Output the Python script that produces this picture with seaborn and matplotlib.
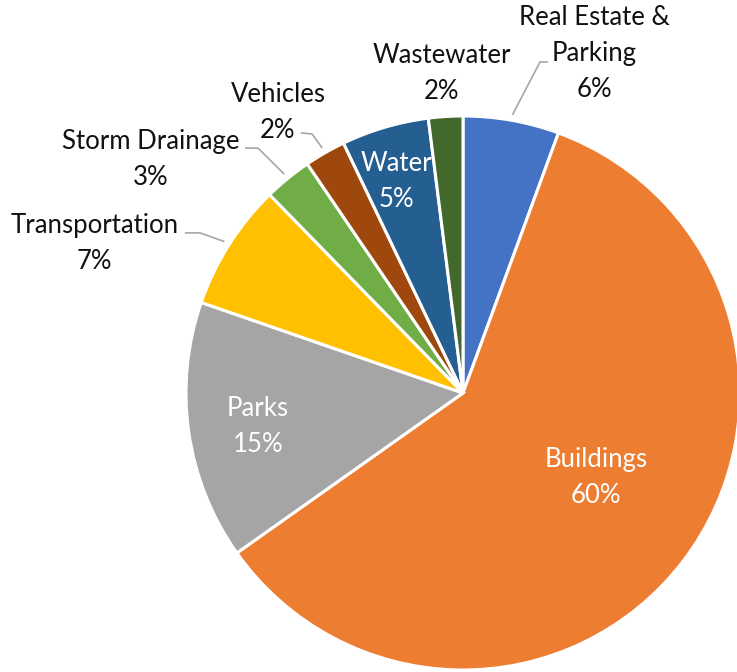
import numpy as np
import seaborn as sns
import matplotlib.pyplot as plt

# Datos del gráfico (en sentido horario desde las 12)
categorias = ['Real Estate &\nParking', 'Buildings', 'Parks', 'Transportation',
              'Storm Drainage', 'Vehicles', 'Water', 'Wastewater']
valores = [5.6, 59.6, 15.1, 7.4, 2.8, 2.4, 5.1, 2.0]
colores = ['#4472C4', '#ED7D31', '#A5A5A5', '#FFC000',
           '#70AD47', '#9E480E', '#255E91', '#43682B']

# Posición de las etiquetas (unidades del radio) y si van dentro
pos_texto = {
    'Real Estate &\nParking': (0.473, 1.225),
    'Buildings': (0.480, -0.306),
    'Parks': (-0.740, -0.122),
    'Transportation': (-1.329, 0.539),
    'Storm Drainage': (-1.126, 0.842),
    'Vehicles': (-0.668, 1.012),
    'Water': (-0.242, 0.763),
    'Wastewater': (-0.076, 1.152),
}
dentro = ['Buildings', 'Parks', 'Water']
# Líneas guía: codo y final
guias = {
    'Real Estate &\nParking': [(0.278, 1.195), (0.307, 1.195)],
    'Transportation': [(-0.949, 0.578), (-1.004, 0.578)],
    'Storm Drainage': [(-0.740, 0.884), (-0.787, 0.884)],
    'Vehicles': [(-0.545, 0.935), (-0.585, 0.939)],
}

sns.set_style("white")
plt.rcParams['font.family'] = ['Lato', 'DejaVu Sans']

fig = plt.figure(figsize=(7.37, 6.72), dpi=100)
ax = fig.add_axes([0, 0, 1, 1])
wedges, _ = ax.pie(valores, colors=sns.color_palette(colores), startangle=90,
                   counterclock=False, radius=1.0,
                   wedgeprops=dict(edgecolor='white', linewidth=2.2))
ax.set_aspect('auto')
ax.set_xlim(-463 / 277, 274 / 277)
ax.set_ylim(-279 / 277, 393 / 277)
ax.axis('off')

total = sum(valores)
for w, cat, v in zip(wedges, categorias, valores):
    txt = f"{cat}\n{v / total * 100:.0f}%"
    x, y = pos_texto[cat]
    color = 'white' if cat in dentro else '#111111'
    ax.text(x, y, txt, ha='center', va='center', fontsize=18.5, color=color,
            linespacing=1.55)
    if cat in guias:
        ang = np.deg2rad((w.theta1 + w.theta2) / 2)
        inicio = (1.02 * np.cos(ang), 1.02 * np.sin(ang))
        pts = [inicio] + guias[cat]
        ax.plot([p[0] for p in pts], [p[1] for p in pts], color='#A6A6A6',
                linewidth=1.2, solid_capstyle='butt')

plt.savefig("out.png", dpi=100)
plt.close()
